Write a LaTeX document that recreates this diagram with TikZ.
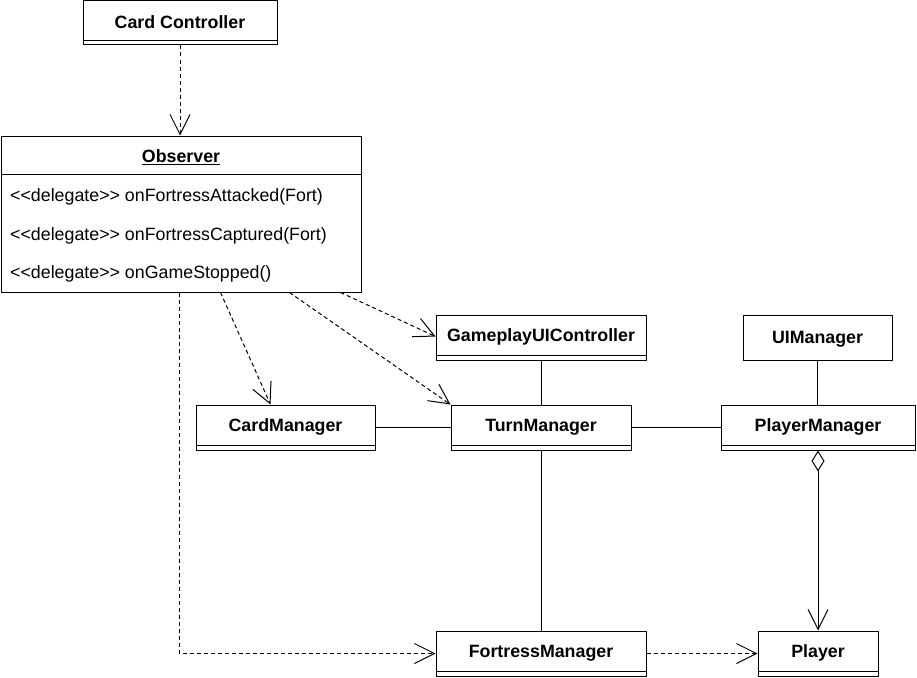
\documentclass[tikz,border=0pt]{standalone}
\usepackage{fontspec}
\setmainfont{Liberation Sans}
\usetikzlibrary{arrows.meta}
\tikzset{
  cls/.style={draw=black, line width=1pt, fill=white, rectangle, inner sep=0pt},
  clsname/.style={font=\fontsize{17.8}{20}\selectfont\bfseries, inner sep=0pt},
  item/.style={font=\fontsize{17.8}{20}\selectfont, inner sep=0pt, anchor=west},
  conn/.style={line width=1pt, draw=black},
  dep/.style={conn, dash pattern=on 4pt off 3pt, -{Straight Barb[length=20pt,width=20pt,line width=1pt]}},
  nav/.style={conn, {Diamond[open,length=21pt,width=13pt,line width=1pt]}-{Straight Barb[length=20pt,width=20pt,line width=1pt]}}
}
\newcommand{\lsq}{<\kern0pt<}
\newcommand{\rsq}{>\kern0pt>}
% \umlclass{name}{x1}{y1}{x2}{y2}{label}
\newcommand{\umlclass}[6]{%
  \node[cls, minimum width=#4-#2, minimum height=#5-#3] (#1) at ({(#2+#4)/2},{(#3+#5)/2}) {};
  \draw[line width=1pt] ([yshift=5pt]#1.south west) -- ([yshift=5pt]#1.south east);
  \node[clsname] (#1-l) at ([yshift=0.5pt]#1.center) {#6};
}
\begin{document}
\begin{tikzpicture}[x=1pt,y=-1pt]
\useasboundingbox (0,0) rectangle (917,677);

% classes
\umlclass{cc}{83}{1}{277}{45}{Card Controller}
\umlclass{guic}{436}{315}{646}{360}{GameplayUIController}
\umlclass{cm}{196}{405}{375}{450}{CardManager}
\umlclass{tm}{451}{405}{631}{450}{TurnManager}
\umlclass{pm}{721}{405}{915}{450}{PlayerManager}
\umlclass{fm}{436}{631}{646}{676}{FortressManager}
\umlclass{pl}{758}{631}{878}{676}{Player}

% UIManager (plain box)
\node[cls, minimum width=149pt, minimum height=45pt] (ui) at (817.5,337.5) {};
\node[clsname] (ui-l) at ([yshift=-2pt]ui.center) {UIManager};

% Observer
\node[cls, minimum width=360pt, minimum height=156pt] (obs) at (181,214) {};
\draw[line width=1pt] (obs.west |- 0,174) coordinate (obsh) -- (obs.east |- 0,174);
\node[clsname] (obs-l) at (181,157) {\underline{Observer}};
\node[item] (obs-a) at (10,197) {\lsq delegate\rsq{} onFortressAttacked(Fort)};
\node[item] (obs-b) at (10,236) {\lsq delegate\rsq{} onFortressCaptured(Fort)};
\node[item] (obs-c) at (10,274) {\lsq delegate\rsq{} onGameStopped()};

% dependencies
\draw[dep] (cc.south) -- (cc.south |- obs.north);
\draw[dep] ([xshift=220pt]obs.south west) -- ([xshift=75pt]cm.north west);
\draw[dep] ([xshift=289pt]obs.south west) -- (tm.north west);
\draw[dep] ([xshift=340pt]obs.south west) -- ([yshift=1pt]guic.west);
\draw[dep] ([xshift=179pt]obs.south west) |- (fm.west);
\draw[dep] (fm.east) -- (pl.west);

% associations
\draw[conn] (guic.south) -- (guic.south |- tm.north);
\draw[conn] (ui.south) -- (ui.south |- pm.north);
\draw[conn] (cm.east) -- (tm.west);
\draw[conn] (tm.east) -- (pm.west);
\draw[conn] (tm.south) -- (tm.south |- fm.north);
\draw[nav] (pm.south) -- (pm.south |- pl.north);
\end{tikzpicture}
\end{document}
